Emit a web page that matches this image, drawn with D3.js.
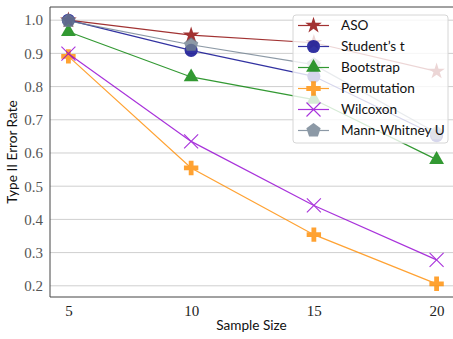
<!DOCTYPE html>
<html>
<head>
<meta charset="utf-8">
<script src="https://cdn.jsdelivr.net/npm/d3@7"></script>
<style>
  body { margin: 0; background: #fff; }
  svg { display: block; }
</style>
</head>
<body>
<div id="chart"></div>
<script>
const sampleSizes = [5, 10, 15, 20]
const yTicks = [0.2, 0.3, 0.4, 0.5, 0.6, 0.7, 0.8, 0.9, 1.0]

const seriesNames = ['ASO', 'Student\u2019s t', 'Bootstrap', 'Permutation', 'Wilcoxon', 'Mann-Whitney U']
const asoValues = [1.0, 0.955, 0.932, 0.846]
const studentValues = [1.0, 0.909, 0.831, 0.652]
const bootstrapValues = [0.965, 0.829, 0.761, 0.58]
const permutationValues = [0.891, 0.555, 0.354, 0.206]
const wilcoxonValues = [0.899, 0.635, 0.442, 0.278]
const mannWhitneyValues = [0.998, 0.926, 0.866, 0.66]

const seriesValues = [asoValues, studentValues, bootstrapValues, permutationValues, wilcoxonValues, mannWhitneyValues]
const colors = ['#8b0000', '#00008b', '#008000', '#ff8c00', '#9400d3', '#708090']
const markers = ['star', 'circle', 'triangle', 'plus', 'x', 'pentagon']

const width = 453, height = 339
const margin = { top: 7, right: -2, bottom: 42, left: 50 }
const sans = 'Lato, "Open Sans", sans-serif'
const serif = '"Liberation Serif", "DejaVu Serif", serif'

const svg = d3.select('#chart').append('svg')
  .attr('width', width)
  .attr('height', height)

// scales (matplotlib-like 5% padding)
const xPad = (20 - 5) * 0.05
const x = d3.scaleLinear()
  .domain([5 - xPad, 20 + xPad])
  .range([margin.left, width - margin.right])

const allVals = seriesValues.flat()
const yMin = d3.min(allVals), yMax = d3.max(allVals)
const yPad = (yMax - yMin) * 0.05
const y = d3.scaleLinear()
  .domain([yMin - yPad, yMax + yPad])
  .range([height - margin.bottom, margin.top])

// grid
svg.append('g')
  .selectAll('line')
  .data(yTicks)
  .enter()
  .append('line')
  .attr('x1', margin.left)
  .attr('x2', width - margin.right)
  .attr('y1', d => y(d))
  .attr('y2', d => y(d))
  .attr('stroke', '#cfcfcf')
  .attr('stroke-width', 1)

// axes
const yAxis = d3.axisLeft(y).tickValues(yTicks).tickFormat(d3.format('.1f')).tickSize(0).tickPadding(7)
const xAxis = d3.axisBottom(x).tickValues(sampleSizes).tickFormat(d3.format('d')).tickSize(0).tickPadding(8)

svg.append('g')
  .attr('transform', `translate(${margin.left},0)`)
  .call(yAxis)
  .call(g => g.select('.domain').remove())
  .selectAll('text')
  .attr('font-family', serif)
  .attr('font-size', '15px')
  .attr('fill', '#555')

svg.append('g')
  .attr('transform', `translate(0,${height - margin.bottom})`)
  .call(xAxis)
  .call(g => g.select('.domain').remove())
  .selectAll('text')
  .attr('font-family', serif)
  .attr('font-size', '15px')
  .attr('fill', '#222')

// spines
const spine = '#444'
svg.append('line')
  .attr('x1', margin.left).attr('x2', margin.left)
  .attr('y1', margin.top).attr('y2', height - margin.bottom)
  .attr('stroke', spine).attr('stroke-width', 1)
svg.append('line')
  .attr('x1', margin.left).attr('x2', width)
  .attr('y1', height - margin.bottom).attr('y2', height - margin.bottom)
  .attr('stroke', spine).attr('stroke-width', 1)
svg.append('line')
  .attr('x1', margin.left).attr('x2', width)
  .attr('y1', margin.top).attr('y2', margin.top)
  .attr('stroke', spine).attr('stroke-width', 1)

// marker paths
function markerPath(kind) {
  if (kind === 'star') return d3.symbol(d3.symbolStar, 85)()
  if (kind === 'circle') return d3.symbol(d3.symbolCircle, 135)()
  if (kind === 'triangle') return d3.symbol(d3.symbolTriangle, 95)()
  if (kind === 'plus') return d3.symbol(d3.symbolCross, 115)()
  if (kind === 'x') {
    const r = 7
    return `M${-r},${-r}L${r},${r}M${-r},${r}L${r},${-r}`
  }
  // pentagon
  const r = 7.5
  const pts = d3.range(5).map(i => {
    const a = -Math.PI / 2 + i * 2 * Math.PI / 5
    return [r * Math.cos(a), r * Math.sin(a)]
  })
  return 'M' + pts.map(p => p.join(',')).join('L') + 'Z'
}

function drawMarker(sel, i) {
  if (markers[i] === 'x') {
    sel.attr('d', markerPath('x'))
      .attr('fill', 'none')
      .attr('stroke', colors[i])
      .attr('stroke-width', 1.1)
  } else {
    sel.attr('d', markerPath(markers[i]))
      .attr('fill', colors[i])
  }
}

const line = d3.line()
  .x((d, i) => x(sampleSizes[i]))
  .y(d => y(d))

// series
seriesValues.forEach((vals, i) => {
  const g = svg.append('g').attr('opacity', 0.8)
  g.append('path')
    .datum(vals)
    .attr('d', line)
    .attr('fill', 'none')
    .attr('stroke', colors[i])
    .attr('stroke-width', 1.2)
  g.selectAll('path.mk')
    .data(vals)
    .enter()
    .append('path')
    .attr('class', 'mk')
    .attr('transform', (d, j) => `translate(${x(sampleSizes[j])},${y(d)})`)
    .call(sel => drawMarker(sel, i))
})

// legend
const legend = svg.append('g').attr('transform', 'translate(293,15)')
legend.append('rect')
  .attr('width', 155)
  .attr('height', 128)
  .attr('rx', 3)
  .attr('fill', '#fff')
  .attr('fill-opacity', 0.8)
  .attr('stroke', '#d6d6d6')
  .attr('stroke-width', 1)

seriesNames.forEach((name, i) => {
  const cy = 10.5 + i * 21
  const row = legend.append('g')
    .attr('transform', `translate(0,${cy})`)
    .attr('opacity', 0.8)
  row.append('line')
    .attr('x1', 5).attr('x2', 36)
    .attr('stroke', colors[i])
    .attr('stroke-width', 1.2)
  row.append('path')
    .attr('transform', 'translate(20.5,0)')
    .call(sel => drawMarker(sel, i))
  legend.append('text')
    .attr('x', 48)
    .attr('y', cy)
    .attr('dy', '0.35em')
    .attr('font-family', sans)
    .attr('font-size', '13.6px')
    .attr('fill', '#111')
    .text(name)
})

// axis labels
svg.append('text')
  .attr('text-anchor', 'middle')
  .attr('transform', `translate(${(margin.left + width) / 2},${height - 9})`)
  .attr('font-family', sans)
  .attr('font-size', '13.6px')
  .attr('fill', '#111')
  .text('Sample Size')

svg.append('text')
  .attr('text-anchor', 'middle')
  .attr('transform', `translate(17,${(margin.top + height - margin.bottom) / 2}) rotate(-90)`)
  .attr('font-family', sans)
  .attr('font-size', '13.6px')
  .attr('fill', '#111')
  .text('Type II Error Rate')
</script>
</body>
</html>
